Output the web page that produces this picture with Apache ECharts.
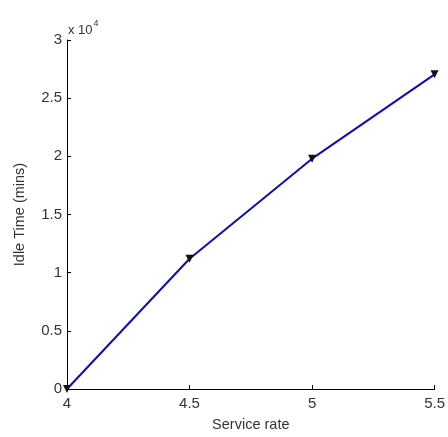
<!DOCTYPE html>
<html>
<head>
<meta charset="utf-8">
<script src="https://cdn.jsdelivr.net/npm/echarts@6/dist/echarts.min.js"></script>
<style>html,body{margin:0;padding:0;background:#fff;}#c{width:448px;height:437px;}</style>
</head>
<body>
<div id="c"></div>
<script>
var serviceRate = [4, 4.5, 5, 5.5];
var idleTime = [0, 11200, 19800, 27050];
var xTicks = [4, 4.5, 5, 5.5];
var yTickLabels = ['0', '0.5', '1', '1.5', '2', '2.5', '3'];

var chart = echarts.init(document.getElementById('c'));
var font = 'Liberation Sans, Arial, sans-serif';
var txt = '#333';
chart.setOption({
  animation: false,
  backgroundColor: '#fff',
  grid: {left: 67, right: 12, top: 40, bottom: 45},
  xAxis: {
    type: 'value', min: 4, max: 5.5, interval: 0.5,
    name: 'Service rate', nameLocation: 'middle', nameGap: 28,
    nameTextStyle: {color: txt, fontSize: 14.5, fontFamily: font},
    axisLine: {show: true, lineStyle: {color: '#000', width: 1}},
    axisTick: {show: true, inside: true, length: 4, lineStyle: {color: '#000'}},
    axisLabel: {color: txt, fontSize: 15, fontFamily: font, margin: 7,
      formatter: function (v) { return String(v); }},
    splitLine: {show: false}
  },
  yAxis: {
    type: 'value', min: 0, max: 30000, interval: 5000,
    name: 'Idle Time (mins)', nameLocation: 'middle', nameGap: 40,
    nameTextStyle: {color: txt, fontSize: 14.5, fontFamily: font},
    axisLine: {show: true, lineStyle: {color: '#000', width: 1}},
    axisTick: {show: true, inside: true, length: 4, lineStyle: {color: '#000'}},
    axisLabel: {color: txt, fontSize: 15, fontFamily: font, margin: 5,
      formatter: function (v) { return yTickLabels[Math.round(v / 5000)]; }},
    splitLine: {show: false}
  },
  series: [{
    type: 'line',
    data: serviceRate.map(function (x, i) { return [x, idleTime[i]]; }),
    clip: false,
    lineStyle: {color: '#0c0cbc', width: 2},
    symbol: 'triangle', symbolRotate: 180, symbolSize: 8,
    itemStyle: {color: '#111', borderWidth: 0},
    z: 3
  }],
  graphic: [{
    type: 'text', left: 68, top: 19,
    style: {
      text: '{a|x 10}{b|4}',
      rich: {
        a: {fontSize: 13, fontFamily: font, fill: txt, verticalAlign: 'bottom'},
        b: {fontSize: 9, fontFamily: font, fill: txt, verticalAlign: 'top', padding: [0, 0, 9, 1]}
      }
    }
  }]
});
</script>
</body>
</html>
